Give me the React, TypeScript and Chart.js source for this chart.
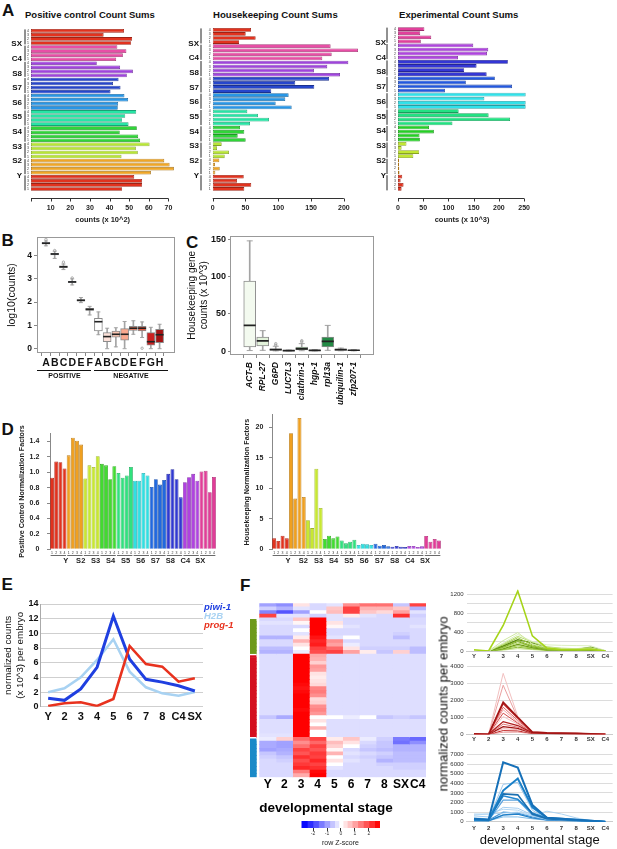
import React, { useEffect, useRef } from 'react';
import { Chart, registerables } from 'chart.js';
Chart.register(...registerables);

const FONT = '"Liberation Sans", Arial, Helvetica, sans-serif';
Chart.defaults.font.family = FONT;
Chart.defaults.color = '#111';

// ---------------- DATA ----------------
// Panel A (top-down order of groups, replicates 4..1)
const groupsTopDown = ['SX', 'C4', 'S8', 'S7', 'S6', 'S5', 'S4', 'S3', 'S2', 'Y'];
const repsTopDown = ['4', '3', '2', '1'];
const positiveSums = [47.4, 37.0, 51.5, 51.0, 44.0, 48.6, 46.8, 43.4, 33.5, 45.4, 51.9, 48.8, 44.6, 41.8, 45.6, 40.5,
  47.6, 49.5, 44.4, 44.2, 53.6, 48.0, 46.4, 49.7, 53.9, 45.2, 54.6, 55.6, 60.4, 53.4, 54.4, 46.1,
  67.9, 70.6, 72.8, 61.1, 52.6, 56.6, 56.6, 46.4];
const housekeepingSums = [58.4, 50.3, 65.5, 40.1, 179.8, 221.5, 181.4, 167.1, 206.8, 174.7, 154.4, 194.1,
  177.3, 125.9, 154.9, 89.3, 115.8, 110.7, 96.0, 120.4, 52.8, 69.0, 85.8, 56.9, 41.6, 48.2, 38.1, 50.3,
  13.7, 6.6, 24.8, 18.3, 10.1, 3.5, 10.7, 4.0, 47.3, 37.0, 58.8, 48.2];
const experimentalSums = [52.3, 44.0, 65.9, 45.2, 149.2, 178.9, 176.4, 118.9, 217.7, 155.7, 131.1, 175.7,
  191.9, 134.4, 226.1, 93.0, 253, 171.2, 253, 253, 120.2, 179.6, 222.2, 107.9, 61.4, 71.1, 42.6, 43.3,
  16.8, 7.1, 42.0, 30.4, 2.0, 2.0, 2.5, 3.0, 8.4, 5.2, 11.0, 7.1];
const positiveTicks = [0, 10, 20, 30, 40, 50, 60, 70];
const positiveTickLabels = ['', '10', '20', '30', '40', '50', '60', '70'];
const housekeepingTicks = [0, 50, 100, 150, 200];
const experimentalTicks = [0, 50, 100, 150, 200, 250];
const colorsA = ['#e2321e', '#e84ea6', '#a044de', '#2646cc', '#2896e6', '#26e6a6', '#30d638', '#b8e636', '#f0a626', '#e2321e'];
const colorsExp = ['#e2409c', '#b044e0', '#3436d6', '#2258e0', '#30e2ea', '#22e282', '#24d224', '#c2e832', '#f0a224', '#e2321e'];

// Panel B
const bLabels = ['A', 'B', 'C', 'D', 'E', 'F', 'A', 'B', 'C', 'D', 'E', 'F', 'G', 'H'];
const bMin = [4.42, 3.88, 3.40, 2.74, 1.98, 1.45, 0.60, 0.00, 0.08, 0.00, 0.62, 0.48, 0.00, 0.00];
const bQ1 = [4.50, 4.03, 3.48, 2.84, 2.04, 1.65, 0.76, 0.30, 0.49, 0.37, 0.78, 0.76, 0.15, 0.26];
const bMed = [4.53, 4.07, 3.52, 2.87, 2.08, 1.69, 1.16, 0.52, 0.62, 0.62, 0.88, 0.88, 0.30, 0.60];
const bQ3 = [4.57, 4.10, 3.56, 2.90, 2.11, 1.73, 1.31, 0.69, 0.76, 0.86, 0.96, 0.96, 0.69, 0.83];
const bMax = [4.63, 4.19, 3.64, 3.00, 2.20, 1.82, 1.58, 0.88, 0.90, 1.17, 1.20, 1.15, 0.92, 1.05];
const bOutIdx = [0, 1, 2, 3, 11];
const bOutVal = [4.70, 4.22, 3.72, 3.04, 0.02];
const bColors = ['#5a6a80', '#5a6a80', '#56667e', '#4e5e7a', '#2c64b0', '#2457a0', '#ffffff', '#fde2da', '#fbc6b2', '#f9a88e', '#f47a5a', '#e8553a', '#cc1f1f', '#a31212'];
const bTicks = [0, 1, 2, 3, 4];

// Panel C
const cLabels = ['ACT-B', 'RPL-27', 'G6PD', 'LUC7L3', 'clathrin-1', 'hgp-1', 'rpl13a', 'ubiquilin-1', 'zfp207-1'];
const cMin = [0.7, 1.0, 0.3, 0.1, 0.5, 0.2, 1.0, 0.4, 0.3];
const cQ1 = [5.7, 7.0, 1.2, 0.3, 1.5, 0.5, 5.7, 1.0, 0.6];
const cMed = [34.6, 13.7, 2.0, 0.6, 3.0, 0.9, 13.0, 2.0, 1.0];
const cQ3 = [94.4, 19.0, 3.0, 0.9, 5.5, 1.3, 19.0, 2.8, 1.4];
const cMax = [148.5, 27.5, 6.5, 1.4, 10.0, 2.0, 34.6, 4.0, 2.0];
const cOutIdx = [2, 2, 4, 4];
const cOutVal = [8.0, 10.0, 12.5, 14.0];
const cColors = ['#f3faef', '#e2f2da', '#c6e6bc', '#a6d89e', '#74c476', '#4cae60', '#238b45', '#17733a', '#0b5a2c'];
const cTicks = [0, 50, 100, 150];

// Panel D (left to right groups, replicates 1..4)
const dGroups = ['Y', 'S2', 'S3', 'S4', 'S5', 'S6', 'S7', 'S8', 'C4', 'SX'];
const dReps = ['1', '2', '3', '4'];
const dColors = ['#e2321e', '#f0a020', '#c8e832', '#42dc30', '#30e27e', '#30e0e2', '#2068e0', '#3038d2', '#b042e0', '#e23c98'];
const positiveNorm = [0.93, 1.14, 1.13, 1.05, 1.22, 1.45, 1.41, 1.36, 0.92, 1.09, 1.07, 1.21, 1.11, 1.09, 0.91, 1.08,
  0.99, 0.93, 0.96, 1.07, 0.89, 0.89, 0.99, 0.96, 0.81, 0.91, 0.84, 0.90, 0.98, 1.04, 0.91, 0.675,
  0.87, 0.935, 0.98, 0.89, 1.01, 1.02, 0.74, 0.94];
const housekeepingNorm = [1.79, 1.35, 2.22, 1.79, 19.0, 8.3, 21.5, 8.57, 4.77, 3.47, 13.19, 6.78, 1.68, 2.22, 1.79, 2.11,
  1.46, 0.97, 1.24, 1.57, 0.70, 0.92, 0.81, 0.70, 0.92, 0.59, 0.70, 0.48, 0.43, 0.54, 0.43, 0.38,
  0.54, 0.54, 0.38, 0.48, 2.17, 1.24, 1.68, 1.46];
const dPosTicks = [0, 0.2, 0.4, 0.6, 0.8, 1.0, 1.2, 1.4];
const dPosTickLabels = ['0', '0.2', '0.4', '0.6', '0.8', '1.0', '1.2', '1.4'];
const dHkTicks = [0, 5, 10, 15, 20];
const dHkTickLabels = ['0', '5', '10', '15', '20'];

// Panel E
const eLabels = ['Y', '2', '3', '4', '5', '6', '7', '8', 'C4', 'SX'];
const piwi1 = [1.14, 0.87, 2.41, 5.37, 12.37, 6.46, 3.73, 3.35, 2.85, 2.14];
const h2b = [1.96, 2.5, 4.0, 6.37, 9.19, 4.78, 2.64, 1.82, 1.5, 2.0];
const prog1 = [0.1, 0.46, 0.6, 0.1, 1.05, 8.28, 5.82, 5.46, 3.41, 3.87];
const eTicks = [0, 2, 4, 6, 8, 10, 12, 14];

// Panel F heatmap (row z-scores; columns below)
const hmCols = ['Y', '2', '3', '4', '5', '6', '7', '8', 'SX', 'C4'];
const hmTop = [
  [-1.0, -1.2, 0.3, -0.4, -0.3, 1.2, 1.5, 1.5, -0.6, 2.0],
  [-0.5, -0.8, -0.3, -0.4, 0.6, 2.0, 0.8, 0.8, 0.6, -0.8],
  [-1.3, -1.8, -1.0, 0.0, 0.7, 2.0, 0.6, 0.4, 1.0, -0.3],
  [2.0, -0.3, -0.3, -0.5, -0.3, 0.2, -0.3, -0.4, 2.2, -0.5],
];
const hmGreen = [
  [-0.4, -0.4, 0.6, 2.7, -0.3, -0.4, -0.4, -0.4, -0.4, -0.4],
  [-0.3, -0.3, 0.1, 2.7, 0.3, -0.4, -0.4, -0.4, -0.4, -0.4],
  [-0.4, -0.4, -0.4, 2.7, 0.1, -0.3, -0.4, -0.4, -0.4, -0.3],
  [-0.4, -0.4, 0.0, 2.7, -0.4, -0.4, -0.4, -0.4, -0.4, -0.4],
  [-0.4, -0.4, -0.3, 2.7, -0.4, -0.4, -0.4, -0.4, -0.5, -0.4],
  [-0.8, -0.8, 0.2, 2.5, -0.3, 0.0, -0.4, -0.4, -0.7, -0.4],
  [-0.4, -0.4, 0.8, 2.3, 1.2, -0.4, -0.4, -0.4, -0.4, -0.4],
  [-0.4, -0.4, 0.3, 2.4, 1.0, -0.2, -0.4, -0.4, -0.4, -0.4],
  [-0.7, -0.7, 0.0, 2.0, 1.6, 0.3, -0.5, -0.5, -0.5, -0.7],
  [-0.8, -0.8, -0.2, 1.9, 2.0, 1.0, 0.2, -0.6, 0.5, -0.7],
];
const hmRed = [
  [-0.35, -0.35, 2.8, 0.9, -0.35, -0.35, -0.35, -0.35, -0.35, -0.35],
  [-0.35, -0.35, 2.8, 0.8, -0.35, -0.35, -0.35, -0.35, -0.35, -0.35],
  [-0.35, -0.35, 2.8, 0.5, -0.35, -0.35, -0.35, -0.35, -0.35, -0.35],
  [-0.35, -0.35, 2.8, 1.1, -0.35, -0.35, -0.35, -0.35, -0.35, -0.35],
  [-0.35, -0.35, 2.8, 1.0, -0.35, -0.35, -0.35, -0.35, -0.35, -0.35],
  [-0.35, -0.35, 2.8, 0.3, -0.35, -0.35, -0.35, -0.35, -0.35, -0.35],
  [-0.35, -0.35, 2.8, 0.2, -0.35, -0.35, -0.35, -0.35, -0.35, -0.35],
  [-0.35, -0.35, 2.8, 0.3, -0.35, -0.35, -0.35, -0.35, -0.35, -0.35],
  [-0.35, -0.35, 2.6, 0.4, -0.35, -0.35, -0.35, -0.35, -0.35, -0.35],
  [-0.35, -0.35, 2.5, 1.3, -0.35, -0.35, -0.35, -0.35, -0.35, -0.35],
  [-0.35, -0.35, 2.6, 1.4, -0.35, -0.35, -0.35, -0.35, -0.35, -0.35],
  [-0.35, -0.35, 2.7, 1.2, -0.35, -0.35, -0.35, -0.35, -0.35, -0.35],
  [-0.35, -0.35, 2.8, 0.4, -0.35, -0.35, -0.35, -0.35, -0.35, -0.35],
  [-0.35, -0.35, 2.8, 0.5, -0.35, -0.35, -0.35, -0.35, -0.35, -0.35],
  [-0.35, -0.35, 2.7, 1.2, -0.35, -0.35, -0.35, -0.35, -0.35, -0.35],
  [-0.35, -0.35, 2.6, 1.3, -0.35, -0.35, -0.35, -0.35, -0.35, -0.35],
  [-0.35, -0.35, 2.7, 1.1, -0.35, -0.35, -0.35, -0.35, -0.35, -0.35],
  [-0.6, -0.9, 2.8, 0.0, 0.0, -0.2, 0.0, -0.6, -0.5, -0.6],
  [-0.35, -0.35, 2.8, 0.3, -0.35, -0.35, -0.35, -0.35, -0.35, -0.35],
  [-0.35, -0.35, 2.8, 0.0, -0.35, -0.35, -0.35, -0.35, -0.35, -0.35],
  [-0.35, -0.35, 2.8, 0.8, -0.35, -0.35, -0.35, -0.35, -0.35, -0.35],
  [-0.35, -0.35, 2.8, 0.0, -0.35, -0.35, -0.35, -0.35, -0.35, -0.35],
  [-0.3, -0.3, 2.8, 0.0, -0.35, -0.35, -0.35, -0.35, -0.35, -0.35],
];
const hmBlue = [
  [-0.2, 0.5, 1.6, 2.0, 0.2, 0.6, -0.2, -0.5, -1.4, -1.6],
  [-0.9, -1.0, 1.2, 1.6, 0.7, 0.3, -0.4, -0.6, -1.5, -1.2],
  [-0.9, -1.0, 1.5, 2.0, 0.5, 0.0, -0.5, -0.6, -0.8, -0.8],
  [-1.0, -0.9, 2.0, 1.8, 0.1, -0.4, -0.6, -0.7, -0.8, -0.8],
  [-0.6, -0.8, 1.8, 2.1, 0.8, -0.3, -0.4, -0.5, -0.7, -0.7],
  [-0.5, -0.6, 2.2, 2.0, 0.0, -0.4, -0.5, -0.6, -0.7, -0.7],
  [-0.4, -0.5, 1.9, 2.3, 0.3, -0.3, -0.4, -0.8, -0.7, -0.7],
  [-0.4, -0.4, 2.1, 2.0, 0.0, -0.4, -0.4, -0.5, -0.5, -0.5],
  [-0.4, -0.4, 2.3, 2.2, -0.3, -0.4, -0.4, -0.4, -0.5, -0.5],
  [-0.4, -0.4, 1.4, 2.6, -0.4, -0.4, -0.4, -0.4, -0.4, -0.4],
  [-0.4, -0.4, 0.9, 2.7, -0.4, -0.4, -0.4, -0.4, -0.4, -0.4],
];
const clusterColors = ['#6e9a1c', '#d4101e', '#1a8ac8'];
const cbEdges = [-2.8, -2.4, -2.0, -1.6, -1.2, -0.8, -0.45, -0.15, 0.15, 0.45, 0.8, 1.2, 1.6, 2.0, 2.4, 2.8];
const cbTicks = [-2, -1, 0, 1, 2];

// Panel F line charts
const fStages = ['Y', '2', '3', '4', '5', '6', '7', '8', 'SX', 'C4'];
const greenLines = [
  [25, 0, 540, 1270, 320, 60, 30, 30, 40, 0],
  [15, 0, 220, 390, 150, 70, 50, 50, 60, 0],
  [10, 0, 170, 350, 200, 130, 120, 115, 110, 10],
  [8, 0, 150, 310, 190, 90, 60, 50, 70, 0],
  [5, 0, 130, 280, 130, 50, 30, 30, 40, 0],
  [5, 0, 110, 240, 170, 60, 30, 30, 80, 0],
  [0, 0, 95, 220, 110, 40, 20, 20, 30, 0],
  [0, 0, 80, 200, 90, 30, 20, 20, 20, 0],
  [0, 0, 65, 170, 95, 30, 15, 15, 25, 0],
  [0, 0, 50, 140, 70, 25, 10, 10, 15, 0],
  [0, 0, 40, 110, 55, 20, 10, 10, 10, 0],
  [0, 0, 30, 80, 45, 15, 10, 10, 10, 0],
  [0, 0, 20, 50, 30, 10, 5, 5, 5, 0],
];
const greenColors = ['#a6d41a', '#cfe8a0', '#dcefc0', '#b8dc70', '#9cc840', '#5c8c10', '#90c030', '#7aa820', '#b0d860', '#6e9c18', '#a4d048', '#88b830', '#c4e488'];
const greenWidths = [1.6, 1, 1, 1, 1, 1.3, 1, 1, 1, 1.2, 1, 1, 1];
const redLines = [
  [20, 0, 1900, 1000, 130, 90, 70, 50, 30, 0],
  [0, 0, 750, 520, 90, 60, 40, 30, 20, 0],
  [0, 0, 3600, 1050, 150, 100, 80, 60, 40, 0],
  [0, 0, 2900, 950, 150, 100, 80, 60, 40, 0],
  [10, 0, 1800, 950, 120, 80, 60, 50, 30, 0],
  [0, 0, 1600, 820, 110, 80, 60, 40, 30, 0],
  [0, 0, 1450, 720, 100, 70, 50, 40, 20, 0],
  [0, 0, 1250, 660, 100, 70, 50, 40, 20, 0],
  [0, 0, 1050, 600, 90, 60, 40, 30, 20, 0],
  [0, 0, 600, 420, 80, 50, 40, 30, 20, 0],
  [0, 0, 450, 350, 70, 50, 30, 20, 10, 0],
  [0, 0, 330, 280, 60, 40, 30, 20, 10, 0],
  [0, 0, 220, 200, 50, 40, 30, 20, 10, 0],
  [0, 0, 120, 130, 40, 30, 20, 10, 10, 0],
];
const redColors = ['#a31515', '#b01c1c', '#f2c0c0', '#eaa0a0', '#c43434', '#e06666', '#f0a8a8', '#d44848', '#f4c4c4', '#e07878', '#a01010', '#f0b4b4', '#c02828', '#e89a9a'];
const redWidths = [1.7, 1.3, 1, 1, 1.2, 1, 1, 1, 1, 1, 1.2, 1, 1, 1];
const blueLines = [
  [300, 200, 6200, 5650, 1750, 400, 300, 200, 100, 0],
  [200, 150, 3250, 4500, 1500, 400, 300, 200, 100, 0],
  [250, 200, 2900, 2800, 800, 300, 200, 150, 80, 0],
  [300, 200, 2700, 2350, 900, 350, 250, 150, 80, 0],
  [400, 300, 3900, 4100, 1200, 300, 200, 150, 80, 0],
  [100, 100, 2250, 2250, 700, 300, 200, 100, 50, 0],
  [600, 500, 1500, 1400, 700, 300, 200, 150, 80, 0],
  [700, 800, 1300, 1200, 600, 250, 200, 150, 80, 0],
  [800, 800, 900, 1000, 600, 1100, 800, 400, 100, 0],
  [200, 150, 1000, 900, 500, 200, 150, 100, 50, 0],
  [100, 100, 700, 800, 400, 200, 150, 100, 50, 0],
  [200, 100, 500, 500, 300, 150, 100, 80, 40, 0],
];
const blueColors = ['#1670b8', '#1a80c8', '#1a6fb0', '#2488d0', '#9cc8ee', '#5aa2de', '#a4cdf0', '#b4d8f4', '#aed4f2', '#4896d6', '#2080c8', '#80bce8'];
const blueWidths = [2, 2, 1.6, 1.6, 1, 1.2, 1, 1, 1, 1.2, 1.4, 1];
const greenTicks = [0, 200, 400, 600, 800, 1000, 1200];
const redTicks = [0, 1000, 2000, 3000, 4000];
const blueTicks = [0, 1000, 2000, 3000, 4000, 5000, 6000, 7000];

// ---------------- HELPERS ----------------
function shade(hex: string, f: number): string {
  const n = parseInt(hex.slice(1), 16);
  const r = Math.round(((n >> 16) & 255) * f);
  const g = Math.round(((n >> 8) & 255) * f);
  const b = Math.round((n & 255) * f);
  return `rgb(${r},${g},${b})`;
}
function zColor(z: number): string {
  const t = Math.max(-1, Math.min(1, z / 2.7));
  if (t < 0) {
    const v = Math.round(255 * (1 + t));
    return `rgb(${v},${v},255)`;
  }
  const v = Math.round(255 * (1 - t));
  return `rgb(255,${v},${v})`;
}
const fixW = (w: number) => (s: any) => { s.width = w; };
const fixH = (h: number) => (s: any) => { s.height = h; };
const ticksAt = (vals: number[]) => (s: any) => { s.ticks = vals.map((v) => ({ value: v })); };
const basePlugins = { legend: { display: false }, tooltip: { enabled: false }, title: { display: false } };
const baseOpts = (padding: any) => ({
  responsive: false,
  animation: false,
  events: [],
  layout: { padding },
});

const rAxisPlugin = {
  id: 'rAxis',
  afterDraw(chart: any, _a: any, o: any) {
    const s = chart.scales.x;
    const t = s.ticks;
    if (!t || !t.length) return;
    const y0 = Math.round(chart.chartArea.bottom + o.offset) + 0.5;
    const ctx = chart.ctx;
    ctx.save();
    ctx.strokeStyle = o.color;
    ctx.lineWidth = 1;
    ctx.beginPath();
    ctx.moveTo(s.getPixelForValue(t[0].value), y0);
    ctx.lineTo(s.getPixelForValue(t[t.length - 1].value), y0);
    t.forEach((tk: any) => {
      const px = Math.round(s.getPixelForValue(tk.value)) + 0.5;
      ctx.moveTo(px, y0);
      ctx.lineTo(px, y0 + o.len);
    });
    ctx.stroke();
    ctx.restore();
  },
};

const groupLinePlugin = {
  id: 'groupLines',
  afterDraw(chart: any, _a: any, o: any) {
    const s = chart.scales[o.indexScale];
    if (!s) return;
    const ctx = chart.ctx;
    ctx.save();
    ctx.strokeStyle = o.color;
    ctx.lineWidth = o.lineWidth;
    for (let g = 0; g < o.groups; g++) {
      const a = s.getPixelForValue(g * o.size - 0.35);
      const b = s.getPixelForValue(g * o.size + o.size - 0.65);
      ctx.beginPath();
      if (o.vertical) {
        const xx = s.left + o.offset;
        ctx.moveTo(xx, a);
        ctx.lineTo(xx, b);
      } else {
        const yy = s.bottom + o.offset;
        ctx.moveTo(a, yy);
        ctx.lineTo(b, yy);
      }
      ctx.stroke();
    }
    ctx.restore();
  },
};

const framePlugin = {
  id: 'frame',
  afterDatasetsDraw(chart: any, _a: any, o: any) {
    const { left, top, right, bottom } = chart.chartArea;
    const ctx = chart.ctx;
    ctx.save();
    ctx.strokeStyle = o.color;
    ctx.lineWidth = 1;
    ctx.strokeRect(Math.round(left) + 0.5, Math.round(top) + 0.5, Math.round(right - left) - 1, Math.round(bottom - top) - 1);
    ctx.restore();
  },
};

// ---------------- CONFIG BUILDERS ----------------
function sumsConfig(p: any) {
  const labels = groupsTopDown.flatMap(() => repsTopDown);
  const bg = p.values.map((_: any, i: number) => p.colors[Math.floor(i / 4)]);
  return {
    type: 'bar',
    data: {
      labels,
      datasets: [{
        data: p.values, backgroundColor: bg, borderColor: bg.map((c: string) => shade(c, 0.7)),
        borderWidth: 0.8, barPercentage: 0.9, categoryPercentage: 1, borderSkipped: false,
      }],
    },
    plugins: [rAxisPlugin, groupLinePlugin],
    options: {
      ...baseOpts({ top: 5, right: p.padRight, left: 0, bottom: 0 }),
      indexAxis: 'y',
      scales: {
        x: {
          type: 'linear', min: 0, max: p.xmax, afterBuildTicks: ticksAt(p.ticks),
          grid: { display: false, drawTicks: false }, border: { display: false },
          ticks: { callback: (_v: any, i: number) => p.tickLabels[i], font: { size: 7, weight: 'bold' }, padding: 12.8, color: '#222', maxRotation: 0, autoSkip: false },
          title: { display: !!p.title, text: p.title || '', font: { size: 7.5, weight: 'bold' }, padding: { top: 0, bottom: 2.8 }, color: '#222' },
          afterFit: fixH(36),
        },
        y: {
          type: 'category', grid: { display: false, drawTicks: false }, border: { display: false },
          ticks: { font: { size: 3.5 }, padding: 2, autoSkip: false, color: '#333' },
          afterFit: fixW(p.repW),
        },
        yg: {
          type: 'linear', position: 'left', reverse: true, min: -0.5, max: 39.5, weight: 1,
          grid: { display: false, drawTicks: false }, border: { display: false },
          afterBuildTicks: ticksAt(groupsTopDown.map((_, g) => g * 4 + 1.5)),
          ticks: { callback: (_v: any, i: number) => groupsTopDown[i], font: { size: 8, weight: 'bold' }, padding: p.groupPad, color: '#111', autoSkip: false },
          afterFit: fixW(p.groupW),
        },
      },
      plugins: {
        ...basePlugins,
        rAxis: { offset: 7, len: 3, color: '#333' },
        groupLines: { indexScale: 'y', vertical: true, offset: 1, groups: 10, size: 4, color: '#222', lineWidth: 1 },
      },
    },
  };
}

function boxDatasets(min: number[], q1: number[], med: number[], q3: number[], max: number[], outIdx: number[], outVal: number[], colors: string[], boxW: number, medColor: string) {
  const idx = min.map((_, i) => i);
  return [
    { type: 'bar', data: idx.map((i) => ({ x: i, y: [min[i], max[i]] })), backgroundColor: '#a4a4a4', barThickness: 1, grouped: false, order: 6 },
    { type: 'bar', data: idx.map((i) => ({ x: i, y: [q1[i], q3[i]] })), backgroundColor: colors, borderColor: '#8c8c8c', borderWidth: 1, borderSkipped: false, barThickness: boxW, grouped: false, order: 5 },
    { type: 'line', data: [...idx.map((i) => ({ x: i, y: min[i] })), ...idx.map((i) => ({ x: i, y: max[i] }))], showLine: false, pointStyle: 'line', pointRadius: boxW / 4, pointBorderWidth: 1, pointBorderColor: '#a4a4a4', order: 4 },
    { type: 'line', data: idx.map((i) => ({ x: i, y: med[i] })), showLine: false, pointStyle: 'line', pointRadius: boxW / 2, pointBorderWidth: 1.6, pointBorderColor: medColor, order: 3 },
    { type: 'line', data: outIdx.map((k, j) => ({ x: k, y: outVal[j] })), showLine: false, pointStyle: 'circle', pointRadius: 1.2, pointBorderWidth: 0.8, pointBorderColor: '#9a9a9a', pointBackgroundColor: 'rgba(0,0,0,0)', order: 2 },
  ];
}

function bConfig() {
  return {
    type: 'bar',
    data: { datasets: boxDatasets(bMin, bQ1, bMed, bQ3, bMax, bOutIdx, bOutVal, bColors, 8, '#222') },
    plugins: [framePlugin],
    options: {
      ...baseOpts({ top: 9, right: 10, left: 0, bottom: 0 }),
      scales: {
        x: {
          type: 'linear', min: -0.46, max: 14.2, afterBuildTicks: ticksAt(bLabels.map((_, i) => i)),
          ticks: { callback: (_v: any, i: number) => bLabels[i], font: { size: 10.5, weight: 'bold' }, padding: 1.3, color: '#111', autoSkip: false, maxRotation: 0 },
          grid: { drawOnChartArea: false, drawTicks: true, tickLength: 3, color: '#888' }, border: { display: false },
          afterFit: fixH(19),
        },
        y: {
          type: 'linear', min: -0.185, max: 4.8, afterBuildTicks: ticksAt(bTicks),
          ticks: { font: { size: 8.5, weight: 'bold' }, padding: 2, color: '#111', autoSkip: false },
          grid: { drawOnChartArea: false, drawTicks: true, tickLength: 3, color: '#888' }, border: { display: false },
          title: { display: true, text: 'log10(counts)', font: { size: 10.5 }, padding: { top: 6, bottom: 0 }, color: '#111' },
          afterFit: fixW(37),
        },
      },
      plugins: { ...basePlugins, frame: { color: '#999' } },
    },
  };
}

function cConfig() {
  return {
    type: 'bar',
    data: { datasets: boxDatasets(cMin, cQ1, cMed, cQ3, cMax, cOutIdx, cOutVal, cColors, 12, '#222') },
    plugins: [framePlugin],
    options: {
      ...baseOpts({ top: 6, right: 6, left: 0, bottom: 0 }),
      scales: {
        x: {
          type: 'linear', min: -0.9, max: 8.97, afterBuildTicks: ticksAt(cLabels.map((_, i) => i)),
          ticks: { callback: (_v: any, i: number) => cLabels[i], font: { size: 8.5, weight: 'bold', style: 'italic' }, padding: 4, color: '#111', autoSkip: false, minRotation: 90, maxRotation: 90 },
          grid: { drawOnChartArea: false, drawTicks: true, tickLength: 3, color: '#888' }, border: { display: false },
          afterFit: fixH(58),
        },
        y: {
          type: 'linear', min: -5.3, max: 155.6, afterBuildTicks: ticksAt(cTicks),
          ticks: { font: { size: 9, weight: 'bold' }, padding: 2, color: '#111', autoSkip: false },
          grid: { drawOnChartArea: false, drawTicks: true, tickLength: 2, color: '#888' }, border: { display: false },
          title: { display: true, text: ['Housekeeping gene', 'counts (x 10^3)'], font: { size: 10 }, padding: { top: 4, bottom: 0 }, color: '#111' },
          afterFit: fixW(48),
        },
      },
      plugins: { ...basePlugins, frame: { color: '#999' } },
    },
  };
}

function normConfig(p: any) {
  const labels = dGroups.flatMap(() => dReps);
  const bg = p.values.map((_: any, i: number) => dColors[Math.floor(i / 4)]);
  return {
    type: 'bar',
    data: {
      labels,
      datasets: [{
        data: p.values, backgroundColor: bg, borderColor: bg.map((c: string) => shade(c, 0.78)),
        borderWidth: 0.8, barPercentage: 0.94, categoryPercentage: 1, borderSkipped: 'start',
      }],
    },
    plugins: [groupLinePlugin],
    options: {
      ...baseOpts({ top: p.padTop, right: p.padRight, left: 0, bottom: 0 }),
      scales: {
        x: {
          type: 'category', grid: { display: false, drawTicks: false }, border: { display: false },
          ticks: { font: { size: 3.5 }, padding: 1.3, autoSkip: false, maxRotation: 0, color: '#333' },
          afterFit: fixH(6.7),
        },
        xg: {
          type: 'linear', position: 'bottom', min: -0.5, max: 39.5, weight: 1,
          grid: { display: false, drawTicks: false }, border: { display: false },
          afterBuildTicks: ticksAt(dGroups.map((_, g) => g * 4 + 1.5)),
          ticks: { callback: (_v: any, i: number) => dGroups[i], font: { size: 7.5, weight: 'bold' }, padding: 0.2, color: '#222', autoSkip: false, maxRotation: 0 },
          afterFit: fixH(11),
        },
        y: {
          type: 'linear', min: 0, max: p.ymax, afterBuildTicks: ticksAt(p.yTicks),
          ticks: { callback: (_v: any, i: number) => p.yTickLabels[i], font: { size: 7, weight: 'bold' }, padding: p.yTickPad, color: '#222', autoSkip: false },
          grid: { drawOnChartArea: false, drawTicks: true, tickLength: 3, color: '#888' }, border: { display: true, color: '#888' },
          title: { display: true, text: p.yTitle, font: { size: 7.2, weight: 'bold' }, padding: { top: p.titlePadTop, bottom: 0 }, color: '#222' },
          afterFit: fixW(p.yW),
        },
      },
      plugins: {
        ...basePlugins,
        groupLines: { indexScale: 'x', vertical: false, offset: -0.5, groups: 10, size: 4, color: '#444', lineWidth: 0.8 },
      },
    },
  };
}

function eConfig() {
  return {
    type: 'line',
    data: {
      labels: eLabels,
      datasets: [
        { data: piwi1, borderColor: '#1f3fe0', borderWidth: 3, order: 2 },
        { data: h2b, borderColor: '#a8d2f2', borderWidth: 2.6, order: 3 },
        { data: prog1, borderColor: '#e8321e', borderWidth: 2.6, order: 1 },
      ],
    },
    options: {
      ...baseOpts({ top: 8, right: 37, left: 0, bottom: 0 }),
      elements: { point: { radius: 0 }, line: { tension: 0 } },
      scales: {
        x: {
          offset: true, grid: { display: false, drawTicks: false }, border: { display: false },
          ticks: { font: { size: 11, weight: 'bold' }, padding: 3.4, color: '#111', maxRotation: 0, autoSkip: false },
          afterFit: fixH(23.3),
        },
        y: {
          min: 0, max: 14, afterBuildTicks: ticksAt(eTicks),
          ticks: { font: { size: 9, weight: 'bold' }, padding: 1.5, color: '#111', autoSkip: false },
          grid: { color: '#cfcfcf', drawTicks: false }, border: { display: true, color: '#aaa' },
          title: { display: true, text: ['normalized counts', '(x 10^3) per embryo'], font: { size: 9.75 }, padding: { top: 2.5, bottom: 0 }, color: '#111' },
          afterFit: fixW(40),
        },
      },
      plugins: basePlugins,
    },
  };
}

const hmRows = [...hmTop, ...hmGreen, ...hmRed, ...hmBlue];
const hmCluster = [...hmTop.map(() => -1), ...hmGreen.map(() => 0), ...hmRed.map(() => 1), ...hmBlue.map(() => 2)];

function heatConfig() {
  return {
    type: 'bar',
    data: {
      labels: hmRows.map((_, i) => String(i)),
      datasets: hmCols.map((c, j) => ({
        label: c, data: hmRows.map(() => 1), backgroundColor: hmRows.map((r) => zColor(r[j])),
        borderWidth: 0, barPercentage: 1, categoryPercentage: 1,
      })),
    },
    options: {
      ...baseOpts({ top: 3.3, right: 5, left: 3.3, bottom: 0 }),
      indexAxis: 'y',
      scales: {
        x: {
          type: 'linear', stacked: true, min: 0, max: hmCols.length, afterBuildTicks: ticksAt(hmCols.map((_, j) => j + 0.5)),
          ticks: { callback: (_v: any, i: number) => hmCols[i], font: { size: 12, weight: 'bold' }, padding: 0.5, color: '#000', maxRotation: 0, autoSkip: false },
          grid: { display: false, drawTicks: false }, border: { display: false },
          title: { display: true, text: 'developmental stage', align: 'start', font: { size: 13.5, weight: 'bold' }, padding: { top: 0, bottom: 5.9 }, color: '#000' },
          afterFit: fixH(44.7),
        },
        y: { type: 'category', stacked: true, display: false },
      },
      plugins: basePlugins,
    },
  };
}

function sideConfig() {
  return {
    type: 'bar',
    data: {
      labels: hmRows.map((_, i) => String(i)),
      datasets: [{
        data: hmCluster.map((c) => (c >= 0 ? 1 : null)),
        backgroundColor: hmCluster.map((c) => (c >= 0 ? clusterColors[c] : 'rgba(0,0,0,0)')),
        borderColor: '#ffffff',
        borderWidth: hmCluster.map((c, i) => ({ top: i > 0 && c !== hmCluster[i - 1] ? 1.5 : 0, bottom: 0, left: 0, right: 0 })),
        borderSkipped: false, barPercentage: 1, categoryPercentage: 1,
      }],
    },
    options: {
      ...baseOpts({ top: 3.3, right: 0.3, left: 1, bottom: 2.7 }),
      indexAxis: 'y',
      scales: { x: { display: false, min: 0, max: 1 }, y: { display: false } },
      plugins: basePlugins,
    },
  };
}

function colorbarConfig() {
  return {
    type: 'bar',
    data: {
      labels: ['z'],
      datasets: cbEdges.slice(0, -1).map((lo, k) => ({
        data: [[lo, cbEdges[k + 1]]], backgroundColor: zColor((lo + cbEdges[k + 1]) / 2),
        grouped: false, barPercentage: 1, categoryPercentage: 1, borderWidth: 0,
      })),
    },
    options: {
      ...baseOpts({ top: 6, right: 8, left: 5, bottom: 0 }),
      indexAxis: 'y',
      scales: {
        x: {
          type: 'linear', min: -2.86, max: 2.79, afterBuildTicks: ticksAt(cbTicks),
          ticks: { font: { size: 5 }, padding: 0, color: '#333', autoSkip: false },
          grid: { drawOnChartArea: false, drawTicks: true, tickLength: 3, color: '#333' }, border: { display: false },
          title: { display: true, text: 'row Z-score', font: { size: 7 }, padding: { top: 0, bottom: 1.8 }, color: '#222' },
          afterFit: fixH(21),
        },
        y: { type: 'category', display: false },
      },
      plugins: basePlugins,
    },
  };
}

function stageLinesConfig(p: any) {
  return {
    type: 'line',
    data: {
      labels: fStages,
      datasets: p.lines.map((d: number[], k: number) => ({ data: d, borderColor: p.colors[k], borderWidth: p.widths[k] })),
    },
    options: {
      ...baseOpts({ top: p.padTop, right: 4.4, left: 0, bottom: 0 }),
      elements: { point: { radius: 0 }, line: { tension: 0 } },
      scales: {
        x: {
          offset: true, grid: { display: false, drawTicks: false }, border: { display: true, color: '#ccc' },
          ticks: { font: { size: 6, weight: 'bold' }, padding: p.xPad, color: '#333', maxRotation: 0, autoSkip: false },
          title: { display: !!p.title, text: p.title || '', font: { size: 13 }, padding: { top: 0, bottom: 1.2 }, color: '#111' },
          afterFit: fixH(p.xh),
        },
        y: {
          min: 0, max: p.ymax, afterBuildTicks: ticksAt(p.ticks),
          ticks: { callback: (v: number) => (v % p.labelEvery === 0 ? String(v) : ''), font: { size: 6 }, padding: 3, color: '#333', autoSkip: false },
          grid: { color: '#dcdcdc', drawTicks: false }, border: { display: false },
          afterFit: fixW(26.7),
        },
      },
      plugins: basePlugins,
    },
  };
}

// ---------------- COMPONENTS ----------------
function ChartCanvas({ x, y, w, h, make }: any) {
  const ref = useRef<HTMLCanvasElement>(null);
  useEffect(() => {
    const c = new Chart(ref.current as HTMLCanvasElement, make());
    return () => c.destroy();
  }, []);
  return <canvas ref={ref} width={w} height={h} style={{ position: 'absolute', left: x, top: y, width: w, height: h }} />;
}

function Txt({ x, base, size, bold, italic, color, center, children }: any) {
  const style: any = {
    position: 'absolute', left: x, top: base - 0.8465 * size, fontSize: size, lineHeight: size + 'px',
    fontWeight: bold ? 'bold' : 'normal', fontStyle: italic ? 'italic' : 'normal', color: color || '#111',
    whiteSpace: 'nowrap', fontFamily: FONT,
  };
  if (center) style.transform = 'translateX(-50%)';
  return <div style={style}>{children}</div>;
}

function Rule({ x, y, w }: any) {
  return <div style={{ position: 'absolute', left: x, top: y, width: w, height: 0, borderTop: '1px solid #111' }} />;
}

export default function App() {
  return (
    <div style={{ position: 'absolute', left: 0, top: 0, width: 617, height: 849, background: '#fff', overflow: 'hidden', fontFamily: FONT }}>
      {/* Panel letters */}
      <Txt x={2} base={16.7} size={17} bold>A</Txt>
      <Txt x={1.5} base={246.7} size={17} bold>B</Txt>
      <Txt x={186} base={248.5} size={17} bold>C</Txt>
      <Txt x={1.5} base={435} size={17} bold>D</Txt>
      <Txt x={1.5} base={590} size={17} bold>E</Txt>
      <Txt x={240} base={591.5} size={17} bold>F</Txt>

      {/* Panel A */}
      <Txt x={25} base={18.3} size={9.5} bold>Positive control Count Sums</Txt>
      <Txt x={213} base={18.3} size={9.6} bold>Housekeeping Count Sums</Txt>
      <Txt x={399} base={18.3} size={9.6} bold>Experimental Count Sums</Txt>
      <ChartCanvas x={0} y={22} w={190} h={205} make={() => sumsConfig({ values: positiveSums, colors: colorsA, xmax: 73, ticks: positiveTicks, tickLabels: positiveTickLabels, title: 'counts (x 10^2)', groupW: 24, repW: 7, groupPad: 2, padRight: 15.7 })} />
      <ChartCanvas x={180} y={22} w={190} h={205} make={() => sumsConfig({ values: housekeepingSums, colors: colorsA, xmax: 222, ticks: housekeepingTicks, tickLabels: housekeepingTicks.map(String), title: '', groupW: 20, repW: 12.7, groupPad: 1, padRight: 11.7 })} />
      <ChartCanvas x={368} y={22} w={175} h={205} make={() => sumsConfig({ values: experimentalSums, colors: colorsExp, xmax: 254, ticks: experimentalTicks, tickLabels: experimentalTicks.map(String), title: 'counts (x 10^3)', groupW: 18, repW: 12, groupPad: 0, padRight: 14 })} />

      {/* Panel B */}
      <ChartCanvas x={0} y={228} w={185} h={144} make={bConfig} />
      <Rule x={37} y={370} w={54} />
      <Rule x={94} y={370} w={74} />
      <Txt x={64.5} base={378.3} size={7} bold center>POSITIVE</Txt>
      <Txt x={131} base={378.3} size={7} bold center>NEGATIVE</Txt>

      {/* Panel C */}
      <ChartCanvas x={182} y={228} w={200} h={185} make={cConfig} />

      {/* Panel D */}
      <ChartCanvas x={0} y={415} w={222} h={152} make={() => normConfig({ values: positiveNorm, ymax: 1.5, yTicks: dPosTicks, yTickLabels: dPosTickLabels, yTitle: 'Positive Control Normalization Factors', yW: 50, yTickPad: 7.7, titlePadTop: 17.5, padTop: 18.8, padRight: 6 })} />
      <ChartCanvas x={240} y={405} w={210} h={162} make={() => normConfig({ values: housekeepingNorm, ymax: 22, yTicks: dHkTicks, yTickLabels: dHkTickLabels, yTitle: 'Housekeeping Normalization Factors', yW: 32, yTickPad: 5.7, titlePadTop: 2.7, padTop: 9.2, padRight: 9 })} />

      {/* Panel E */}
      <ChartCanvas x={0} y={596} w={240} h={134} make={eConfig} />
      <Txt x={204} base={610.5} size={9.5} bold italic color="#1f3fe0">piwi-1</Txt>
      <Txt x={204} base={619.5} size={9.5} bold italic color="#a8d2f2">H2B</Txt>
      <Txt x={204} base={628.5} size={9.5} bold italic color="#e8321e">prog-1</Txt>

      {/* Panel F heatmap */}
      <ChartCanvas x={249} y={600} w={8} h={180} make={sideConfig} />
      <ChartCanvas x={256} y={600} w={175} h={222} make={heatConfig} />
      <ChartCanvas x={296} y={815} w={92} h={34} make={colorbarConfig} />

      {/* Panel F line charts */}
      <ChartCanvas x={440} y={583} w={177} h={80} make={() => stageLinesConfig({ lines: greenLines, colors: greenColors, widths: greenWidths, ymax: 1300, ticks: greenTicks, labelEvery: 400, padTop: 4.4, xh: 12, xPad: 1.4 })} />
      <ChartCanvas x={440} y={660} w={177} h={86} make={() => stageLinesConfig({ lines: redLines, colors: redColors, widths: redWidths, ymax: 4000, ticks: redTicks, labelEvery: 1000, padTop: 5.7, xh: 11.7, xPad: 1.4 })} />
      <ChartCanvas x={440} y={748} w={177} h={101} make={() => stageLinesConfig({ lines: blueLines, colors: blueColors, widths: blueWidths, ymax: 7000, ticks: blueTicks, labelEvery: 1000, padTop: 5, xh: 27.3, xPad: 3, title: 'developmental stage' })} />
      <div style={{ position: 'absolute', left: 442.5, top: 704, transform: 'translate(-50%,-50%) rotate(-90deg)', fontSize: 13, color: '#111', whiteSpace: 'nowrap', fontFamily: FONT }}>normalized counts per embryo</div>
    </div>
  );
}
